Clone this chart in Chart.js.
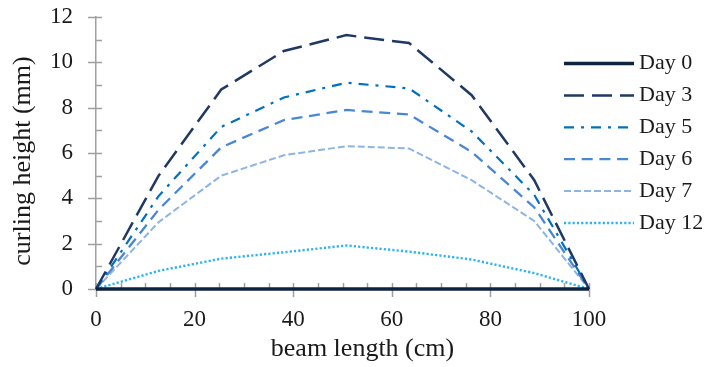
<!DOCTYPE html>
<html>
<head>
<meta charset="utf-8">
<style>
  html, body { margin: 0; padding: 0; background: #fff; }
</style>
</head>
<body>
<canvas id="curl-chart" width="709" height="367"></canvas>
<script src="https://cdn.jsdelivr.net/npm/chart.js@4/dist/chart.umd.min.js"></script>
<script>
// beam position (cm) and curling height (mm) per day
const beamLength = [0, 12.7, 25.4, 38.1, 50.8, 63.5, 76.2, 88.9, 100];
const day0 = [0, 0, 0, 0, 0, 0, 0, 0, 0];
const day3 = [0, 5.0, 8.8, 10.5, 11.2, 10.85, 8.55, 4.8, 0];
const day5 = [0, 4.1, 7.15, 8.45, 9.1, 8.85, 6.95, 4.15, 0];
const day6 = [0, 3.5, 6.25, 7.45, 7.9, 7.7, 6.05, 3.6, 0];
const day7 = [0, 2.95, 5.0, 5.9, 6.3, 6.2, 4.8, 3.0, 0];
const day12 = [0, 0.8, 1.34, 1.62, 1.92, 1.65, 1.3, 0.7, 0];
const dayLabels = ["Day 0", "Day 3", "Day 5", "Day 6", "Day 7", "Day 12"];
const xTicks = [0, 20, 40, 60, 80, 100];
const yTicks = [0, 2, 4, 6, 8, 10, 12];

const series = [day0, day3, day5, day6, day7, day12];
const lineStyles = [
  { color: "#0c2342", width: 3.5, dash: [] },
  { color: "#1f3864", width: 2.5, dash: [20, 8] },
  { color: "#0070c0", width: 2.2, dash: [10, 7, 3, 7] },
  { color: "#4a86d6", width: 2.3, dash: [11, 6.7] },
  { color: "#8db4e2", width: 2, dash: [7, 3] },
  { color: "#2db4f0", width: 2.4, dash: [2.2, 2.1] }
];

const serif = "'Liberation Serif', 'Times New Roman', serif";
const textColor = "#1a1a1a";
const axisGray = "#a0a0a0";

Chart.defaults.font.family = serif;
Chart.defaults.color = textColor;

// Excel-like tick marks: major cross the axis, minor sit inside
const axisTicks = {
  id: "axisTicks",
  beforeDatasetsDraw(chart) {
    const { ctx, chartArea: { left, bottom }, scales: { x, y } } = chart;
    ctx.save();
    ctx.strokeStyle = axisGray;
    ctx.lineWidth = 1.5;
    ctx.beginPath();
    for (let v = 0; v <= 12; v++) {
      const py = Math.round(y.getPixelForValue(v)) + 0.5;
      ctx.moveTo(v % 2 === 0 ? left - 8 : left, py);
      ctx.lineTo(left + 6, py);
    }
    for (let v = 0; v <= 100; v += 5) {
      const px = Math.round(x.getPixelForValue(v)) + 0.5;
      ctx.moveTo(px, bottom - 6);
      ctx.lineTo(px, v % 20 === 0 ? bottom + 8 : bottom);
    }
    ctx.stroke();
    ctx.restore();
  }
};

const axisTitles = {
  id: "axisTitles",
  afterDraw(chart) {
    const { ctx, chartArea } = chart;
    ctx.save();
    ctx.fillStyle = textColor;
    ctx.font = "26px " + serif;
    ctx.textAlign = "center";
    ctx.textBaseline = "middle";
    ctx.fillText("beam length (cm)", (chartArea.left + chartArea.right) / 2 + 20, chartArea.bottom + 60);
    ctx.translate(23, (chartArea.top + chartArea.bottom) / 2 + 8);
    ctx.rotate(-Math.PI / 2);
    ctx.fillText("curling height (mm)", 0, 0);
    ctx.restore();
  }
};

// legend drawn over the plot's right side, as in the original
const sideLegend = {
  id: "sideLegend",
  afterDraw(chart) {
    const { ctx } = chart;
    ctx.save();
    ctx.font = "22px " + serif;
    ctx.textBaseline = "middle";
    chart.data.datasets.forEach((ds, i) => {
      const cy = 63.5 + i * 31.9;
      ctx.strokeStyle = ds.borderColor;
      ctx.lineWidth = ds.borderWidth;
      ctx.setLineDash(ds.borderDash);
      ctx.beginPath();
      ctx.moveTo(564, cy);
      ctx.lineTo(634, cy);
      ctx.stroke();
      ctx.fillStyle = textColor;
      ctx.fillText(ds.label, 639, cy);
    });
    ctx.restore();
  }
};

new Chart(document.getElementById("curl-chart"), {
  type: "line",
  data: {
    datasets: series.map((vals, i) => ({
      label: dayLabels[i],
      data: beamLength.map((bx, j) => ({ x: bx, y: vals[j] })),
      borderColor: lineStyles[i].color,
      borderWidth: lineStyles[i].width,
      borderDash: lineStyles[i].dash,
      pointRadius: 0,
      tension: 0,
      clip: false,
      fill: false
    }))
  },
  options: {
    responsive: false,
    animation: false,
    layout: { padding: { left: 0, right: 120, top: 17, bottom: 0 } },
    plugins: { legend: { display: false }, tooltip: { enabled: false } },
    scales: {
      x: {
        type: "linear",
        min: 0,
        max: 100,
        afterBuildTicks: (s) => { s.ticks = xTicks.map((v) => ({ value: v })); },
        afterFit: (s) => { s.height = 78; s.paddingLeft = 0; s.paddingRight = 0; },
        ticks: { padding: 17, font: { size: 23 }, color: textColor },
        grid: { display: false, drawTicks: false },
        border: { color: axisGray, width: 1.5 }
      },
      y: {
        min: 0,
        max: 12,
        afterBuildTicks: (s) => { s.ticks = yTicks.map((v) => ({ value: v })); },
        afterFit: (s) => { s.width = 96; s.paddingTop = 0; s.paddingBottom = 0; },
        ticks: { padding: 23, font: { size: 23 }, color: textColor },
        grid: { display: false, drawTicks: false },
        border: { color: axisGray, width: 1.5 }
      }
    }
  },
  plugins: [axisTicks, axisTitles, sideLegend]
});
</script>
</body>
</html>
